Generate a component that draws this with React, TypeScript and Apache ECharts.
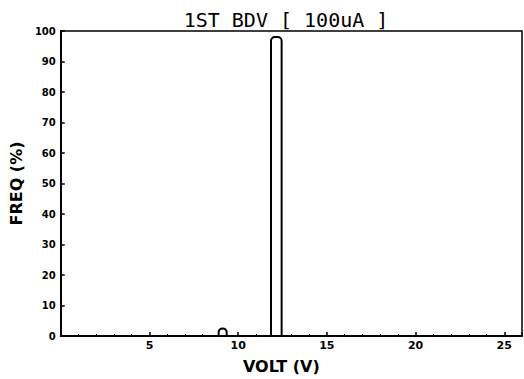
import React, { useEffect, useRef } from "react";
import * as echarts from "echarts";

const titleText = "1ST BDV [ 100uA ]";
const xName = "VOLT (V)";
const yName = "FREQ (%)";
const binStart = [8.9, 11.85];
const binEnd = [9.35, 12.45];
const freq = [2.5, 98];
const xMin = 0;
const xMax = 26;
const yMin = 0;
const yMax = 100;

export default function App() {
  const ref = useRef<HTMLDivElement>(null);
  useEffect(() => {
    if (!ref.current) return;
    const chart = echarts.init(ref.current, null, { renderer: "svg" });
    const data = freq.map((v, i) => [binStart[i], binEnd[i], v]);
    const font = "DejaVu Sans";
    chart.setOption({
      animation: false,
      backgroundColor: "#fff",
      title: {
        text: titleText,
        left: 281,
        textAlign: "center",
        top: 5,
        textStyle: { fontFamily: "DejaVu Sans Mono", fontSize: 20, fontWeight: "normal", color: "#000" },
      },
      grid: { left: 56, right: 2, top: 31, bottom: 36, show: true, borderColor: "#000", borderWidth: 1.5 },
      xAxis: {
        type: "value",
        min: xMin,
        max: xMax,
        interval: 5,
        name: xName,
        nameLocation: "middle",
        nameGap: 22,
        nameTextStyle: { fontFamily: font, fontSize: 16, fontWeight: "bold", color: "#000", padding: [0, 0, 0, -20] },
        axisLine: { lineStyle: { color: "#000", width: 2 } },
        axisTick: { inside: true, length: 4, lineStyle: { color: "#000", width: 1.5 } },
        minorTick: { show: true, splitNumber: 5, length: 2, lineStyle: { color: "#000" } },
        splitLine: { show: false },
        axisLabel: {
          showMinLabel: false,
          showMaxLabel: false,
          fontFamily: font,
          fontWeight: "bold",
          fontSize: 11,
          color: "#000",
          margin: 4,
        },
      },
      yAxis: {
        type: "value",
        min: yMin,
        max: yMax,
        interval: 10,
        name: yName,
        nameLocation: "middle",
        nameGap: 33,
        nameTextStyle: { fontFamily: font, fontSize: 16, fontWeight: "bold", color: "#000" },
        axisLine: { lineStyle: { color: "#000", width: 2 } },
        axisTick: { inside: true, length: 4, lineStyle: { color: "#000", width: 1.5 } },
        splitLine: { show: false },
        axisLabel: { fontFamily: font, fontWeight: "bold", fontSize: 10, color: "#000", margin: 5 },
      },
      series: [
        {
          type: "custom",
          data,
          encode: { x: [0, 1], y: 2 },
          renderItem: (params: any, api: any) => {
            const p0 = api.coord([api.value(0), api.value(2)]);
            const p1 = api.coord([api.value(1), 0]);
            return {
              type: "rect",
              shape: { x: p0[0], y: p0[1], width: p1[0] - p0[0], height: p1[1] - p0[1], r: [4, 4, 0, 0] },
              style: { fill: "#fff", stroke: "#000", lineWidth: 2 },
            };
          },
        },
      ],
    });
    return () => chart.dispose();
  }, []);
  return <div ref={ref} style={{ width: 524, height: 379, position: "absolute", left: 0, top: 0 }} />;
}
